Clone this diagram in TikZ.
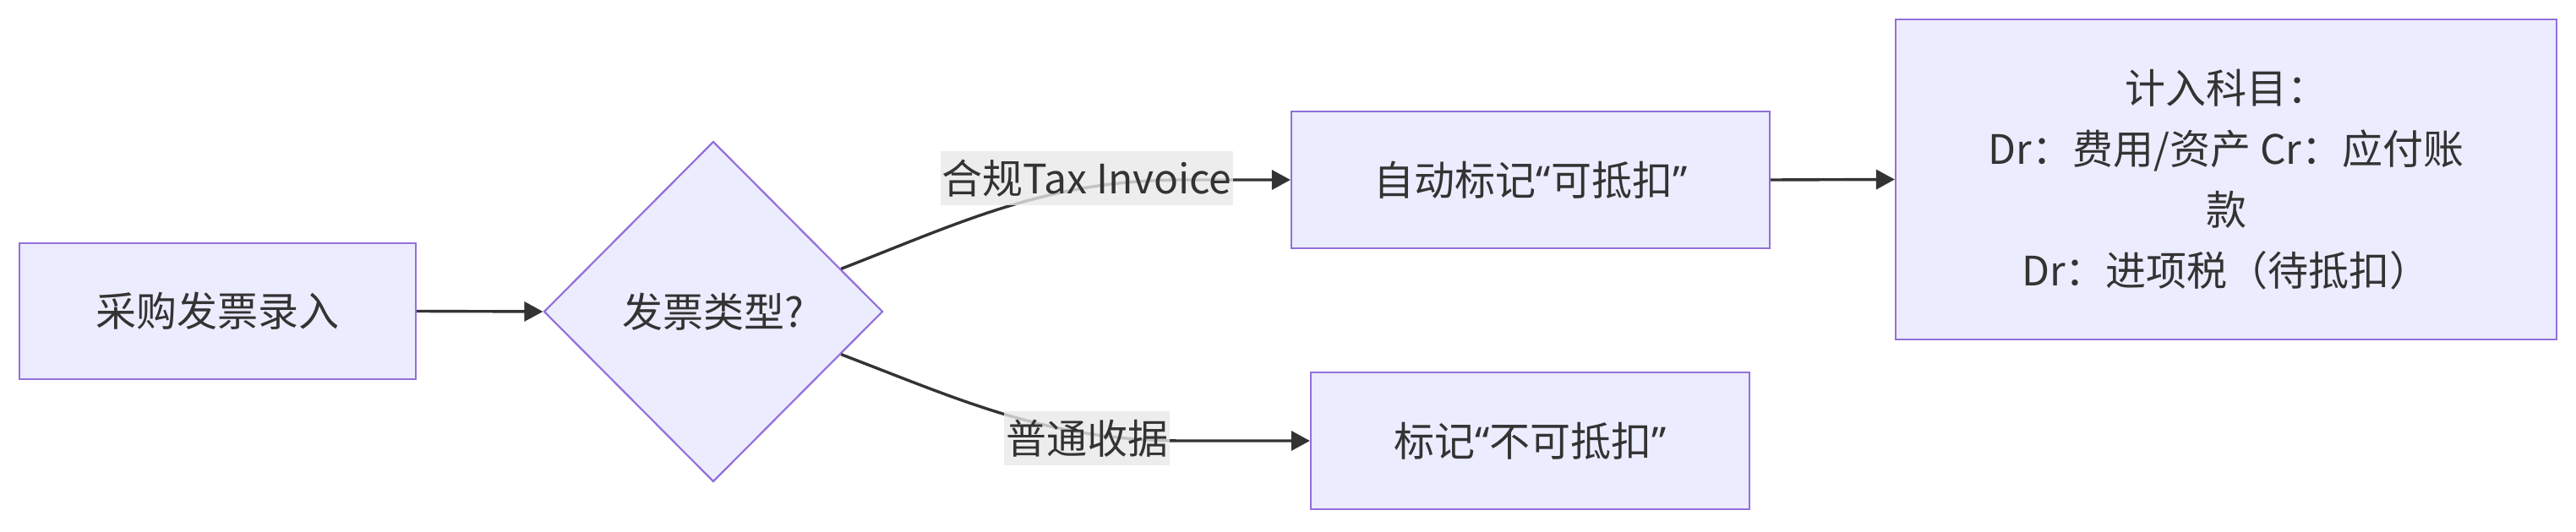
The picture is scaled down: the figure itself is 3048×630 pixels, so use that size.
\documentclass[tikz,border=0pt]{standalone}
\usepackage{fontspec}
\setmainfont{Noto Sans CJK SC}
\newfontfamily\latquote{Noto Sans}
\newcommand{\oq}{{\latquote “}}
\newcommand{\cq}{{\latquote ”}}
\usetikzlibrary{shapes.geometric,arrows.meta,calc}
\definecolor{nodefill}{HTML}{ECECFF}
\definecolor{nodeline}{HTML}{9370DB}
\definecolor{edgeline}{HTML}{333333}
\definecolor{txt}{HTML}{333333}
\definecolor{lblbg}{HTML}{E8E8E8}
\begin{document}
\begin{tikzpicture}[x=0.25pt,y=-0.25pt,
  box/.style={draw=nodeline,fill=nodefill,line width=0.55pt,text=txt,font=\fontsize{12pt}{18pt}\selectfont,align=center,inner sep=0pt},
  decision/.style={diamond,draw=nodeline,fill=nodefill,line width=0.55pt,text=txt,font=\fontsize{12pt}{18pt}\selectfont,inner sep=0pt,minimum width=100.25pt,minimum height=100.75pt},
  edge/.style={draw=edgeline,line width=0.85pt,-{Triangle[length=5.5pt,width=5.75pt]}},
  elabel/.style={fill=lblbg,fill opacity=0.8,text opacity=1,text=txt,font=\fontsize{12pt}{14pt}\selectfont,inner xsep=0.5pt,inner ysep=2.5pt}]
\useasboundingbox (0,0) rectangle (3048,630);
\node[box,minimum width=117.25pt,minimum height=40.25pt] (a) at (257.5,368.5) {采购发票录入};
\node[decision] (dec) at (844,369) {发票类型?};
\node[box,minimum width=141.5pt,minimum height=40.5pt] (b) at (1811,213) {自动标记\oq 可抵扣\cq};
\node[box,minimum width=129.75pt,minimum height=40.5pt] (c) at (1810.5,522) {标记\oq 不可抵扣\cq};
\node[box,minimum width=195.5pt,minimum height=94.75pt] (d) at (2634,212.5) {计入科目：\\Dr：费用/资产 Cr：应付账\\款\\Dr：进项税（待抵扣）};
\coordinate (up) at ($(dec.north)!0.75!(dec.east)$);
\coordinate (lo) at ($(dec.south)!0.75!(dec.east)$);
\coordinate (upflat) at (1400,213);
\coordinate (loflat) at (1400,522);
\draw[edge] (a.east) -- (dec.west);
\draw[edge] (up) .. controls (1140,262) and (1240,213) .. (upflat) -- (b.west);
\draw[edge] (lo) .. controls (1140,475) and (1240,522) .. (loflat) -- (c.west);
\draw[edge] (b.east) -- (d.west);
\node[elabel] (l1) at (1286,211) {合规Tax Invoice};
\node[elabel] (l2) at (1286,519) {普通收据};
\end{tikzpicture}
\end{document}
